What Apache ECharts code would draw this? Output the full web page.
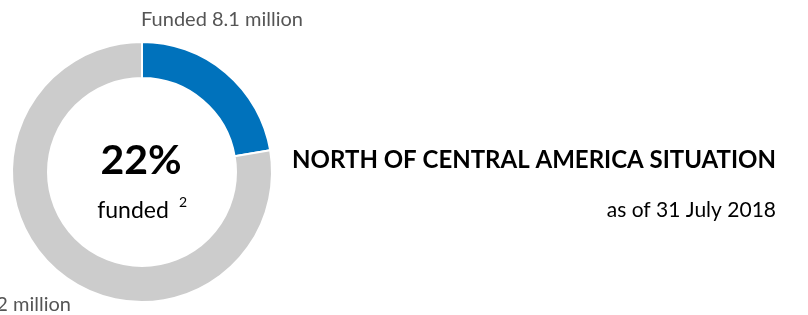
<!DOCTYPE html>
<html>
<head>
<meta charset="utf-8">
<script src="https://cdn.jsdelivr.net/npm/echarts@6/dist/echarts.min.js"></script>
<style>
  html, body { margin: 0; padding: 0; background: #fff; }
  #chart { width: 808px; height: 315px; }
</style>
</head>
<body>
<div id="chart"></div>
<script>
// values in millions (USD)
var categories = ["Funded", "Gap"];
var amounts = [8.1, 28.2];
var colors = ["#0072bc", "#cccccc"];
var titleText = "NORTH OF CENTRAL AMERICA SITUATION";
var dateText = "as of 31 July 2018";

var total = amounts[0] + amounts[1];
var pct = Math.round(amounts[0] / total * 100);

function sliceLabel(i) {
  return categories[i] + " " + amounts[i] + " million";
}

var myChart = echarts.init(document.getElementById("chart"));
myChart.setOption({
  animation: false,
  textStyle: { fontFamily: "Lato" },
  graphic: [
    {
      type: "text",
      x: 141, y: 161,
      style: {
        text: pct + "%",
        fontFamily: "Lato", fontWeight: "bold", fontSize: 41,
        fill: "#000", align: "center", verticalAlign: "middle"
      }
    },
    {
      type: "text",
      x: 133, y: 211,
      style: {
        text: "funded",
        fontFamily: "Lato", fontSize: 23,
        fill: "#000", align: "center", verticalAlign: "middle"
      }
    },
    {
      type: "text",
      x: 183, y: 202,
      style: {
        text: "2",
        fontFamily: "Lato", fontSize: 14,
        fill: "#000", align: "center", verticalAlign: "middle"
      }
    },
    {
      type: "text",
      x: 222, y: 20,
      style: {
        text: sliceLabel(0),
        fontFamily: "Lato", fontSize: 20,
        fill: "#555", align: "center", verticalAlign: "middle"
      }
    },
    {
      type: "text",
      x: 71, y: 305,
      style: {
        text: sliceLabel(1),
        fontFamily: "Lato", fontSize: 20,
        fill: "#555", align: "right", verticalAlign: "middle"
      }
    },
    {
      type: "text",
      x: 776, y: 160,
      style: {
        text: titleText,
        fontFamily: "Lato", fontWeight: "bold", fontSize: 24,
        fill: "#000", align: "right", verticalAlign: "middle"
      }
    },
    {
      type: "text",
      x: 776, y: 210,
      style: {
        text: dateText,
        fontFamily: "Lato", fontSize: 21,
        fill: "#000", align: "right", verticalAlign: "middle"
      }
    }
  ],
  series: [
    {
      type: "pie",
      center: [142, 172],
      radius: [94, 130],
      startAngle: 90,
      clockwise: true,
      silent: true,
      itemStyle: { borderColor: "#fff", borderWidth: 2 },
      label: { show: false },
      labelLine: { show: false },
      data: categories.map(function (c, i) {
        return { name: c, value: amounts[i], itemStyle: { color: colors[i] } };
      })
    }
  ]
});
</script>
</body>
</html>
